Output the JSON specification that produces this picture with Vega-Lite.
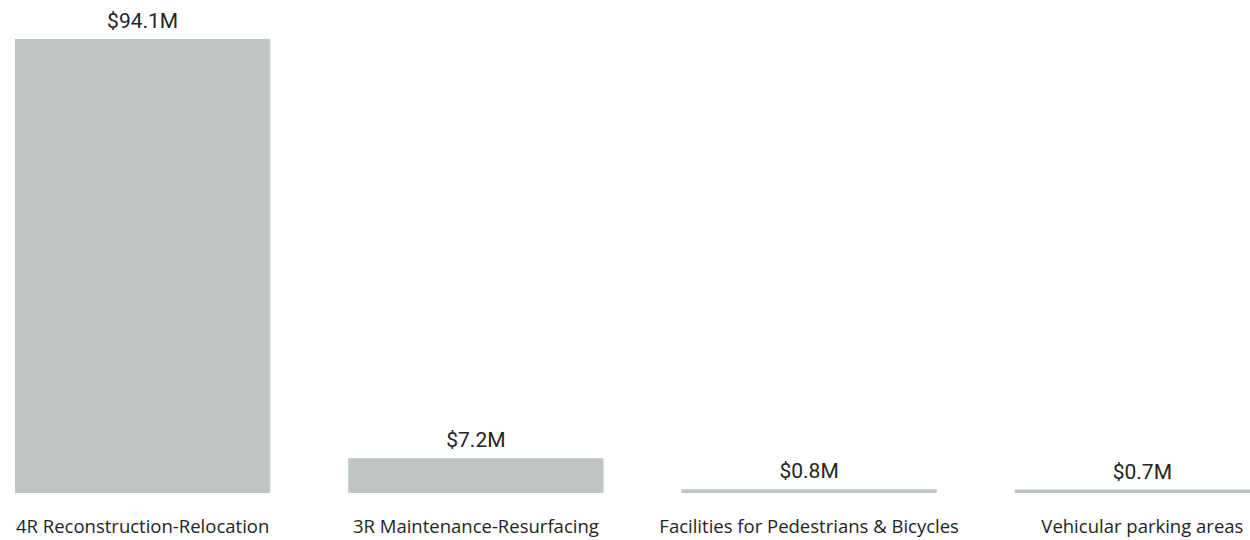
{
  "$schema": "https://vega.github.io/schema/vega-lite/v6.json",
  "width": 1250,
  "height": 454,
  "autosize": {"type": "none"},
  "padding": {"top": 39, "left": 0, "right": 0, "bottom": 47},
  "background": "white",
  "config": {"view": {"stroke": null}},
  "data": {"values": [
    {"category": "4R Reconstruction-Relocation", "value": 94.1, "label": "$94.1M"},
    {"category": "3R Maintenance-Resurfacing", "value": 7.2, "label": "$7.2M"},
    {"category": "Facilities for Pedestrians & Bicycles", "value": 0.8, "label": "$0.8M"},
    {"category": "Vehicular parking areas", "value": 0.7, "label": "$0.7M"}
  ]},
  "encoding": {
    "x": {
      "field": "category", "type": "nominal", "sort": null,
      "scale": {"range": [0, 1285], "paddingInner": 0.234, "paddingOuter": 0.045},
      "axis": {"title": null, "domain": false, "ticks": false, "labelAngle": 0, "labelPadding": 24,
        "labelFont": "Open Sans", "labelFontSize": 18.5, "labelColor": "#252423", "labelLimit": 400, "labelOverlap": false}
    },
    "y": {
      "field": "value", "type": "quantitative",
      "scale": {"domain": [0, 94.1], "nice": false, "zero": true},
      "axis": null
    }
  },
  "layer": [
    {"mark": {"type": "bar", "color": "#bfc4c4"}},
    {"mark": {"type": "text", "baseline": "alphabetic", "dy": -11, "font": "Roboto", "fontSize": 21, "fontWeight": "normal", "color": "#252423"},
     "encoding": {"text": {"field": "label"}}}
  ]
}
